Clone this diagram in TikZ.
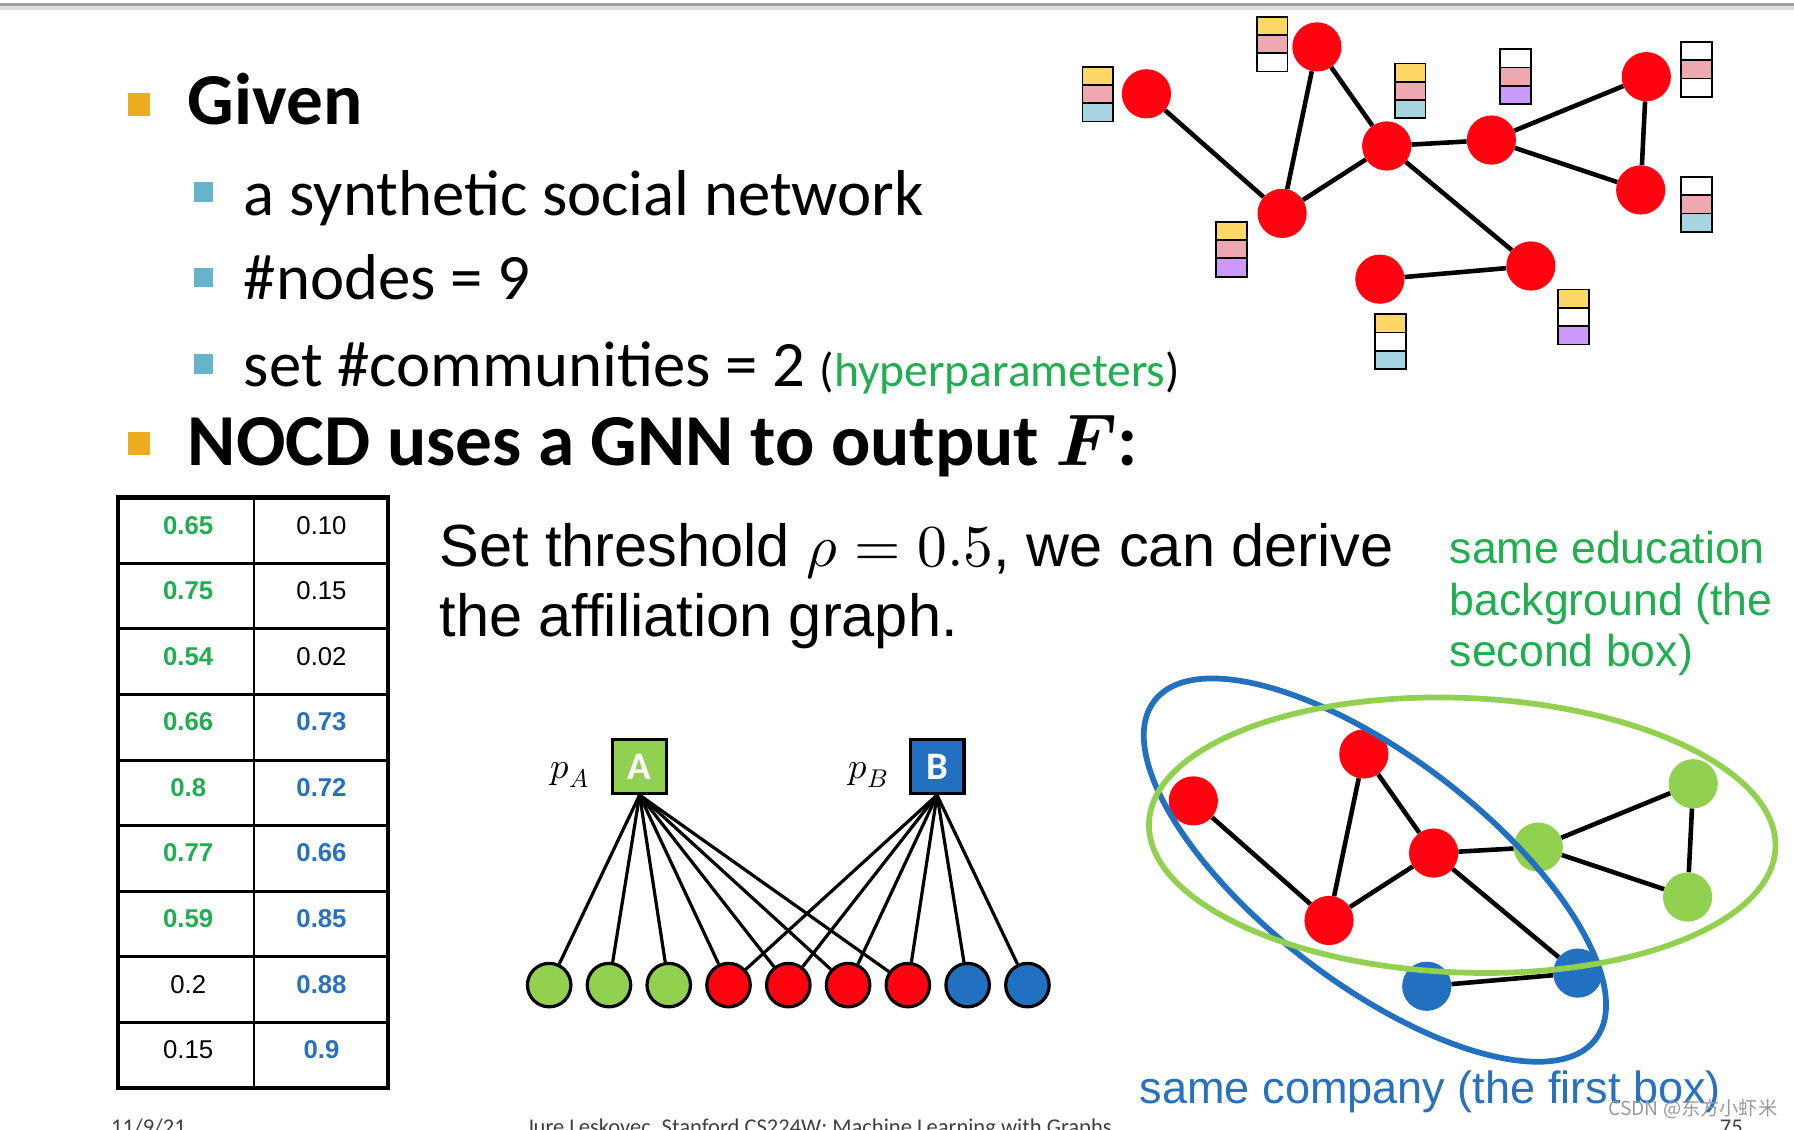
\documentclass[tikz,border=0pt]{standalone}
\usepackage{fontspec}
\usepackage{unicode-math}
\setmainfont{Carlito}
\newfontfamily\arialfont{Liberation Sans}
\newfontfamily\cjkfont{Noto Sans CJK SC}
\usetikzlibrary{positioning}

\definecolor{nodered}{RGB}{255,4,16}
\definecolor{nodegreen}{RGB}{146,208,80}
\definecolor{nodeblue}{RGB}{34,112,192}
\definecolor{txtgreen}{RGB}{32,174,80}
\definecolor{txtblue}{RGB}{40,112,192}
\definecolor{bulorange}{RGB}{239,171,32}
\definecolor{bulblue}{RGB}{102,180,204}
\definecolor{featyellow}{RGB}{254,215,102}
\definecolor{featpink}{RGB}{238,168,176}
\definecolor{featcyan}{RGB}{166,212,224}
\definecolor{featpurple}{RGB}{204,153,255}

\begin{document}
\begin{tikzpicture}[x=1pt, y=-1pt,
    txt/.style={inner sep=0pt, anchor=base west},
    bigtxt/.style={txt, font=\bfseries\fontsize{64}{70}\selectfont},
    subtxt/.style={txt, font=\fontsize{56.6}{62}\selectfont},
    armtxt/.style={txt, font=\arialfont\fontsize{52}{60}\selectfont},
    tagtxt/.style={txt, font=\arialfont\fontsize{39}{44}\selectfont},
    foot/.style={txt, text=black!75, font=\fontsize{19.7}{22}\selectfont},
    bullet/.style={fill=bulorange, minimum size=20pt, inner sep=0pt},
    subbullet/.style={fill=bulblue, minimum size=17pt, inner sep=0pt},
    person/.style={circle, fill=nodered, minimum size=43pt, inner sep=0pt},
    link/.style={line width=4pt},
    cell/.style={draw, line width=1.5pt, minimum width=27pt, minimum height=16pt,
        inner sep=0pt, outer sep=0pt},
    hiA/.style={text=txtgreen, font=\arialfont\bfseries\fontsize{22.5}{24}\selectfont},
    hiB/.style={text=txtblue, font=\arialfont\bfseries\fontsize{22.5}{24}\selectfont},
    lo/.style={font=\arialfont\fontsize{22.5}{24}\selectfont},
    comm/.style={draw, line width=2.8pt, minimum size=47pt, inner sep=0pt,
        text=white, font=\bfseries\fontsize{34}{34}\selectfont},
    member/.style={circle, draw, line width=2.8pt, minimum size=38pt, inner sep=0pt},
    ring/.style={line width=5pt}]

\useasboundingbox (0,0) rectangle (1568,987);
\clip (0,0) rectangle (1568,987);
\fill[white] (0,0) rectangle (1568,987);
\draw[gray!25, line width=4pt] (0,7) -- (1568,7);
\draw[gray!75, line width=3pt] (0,4) -- (1568,4);

% Bullets
\node[bullet] (bgiven) at (121.5,91.5) {};
\node[bigtxt] (given) at (164,109) {Given};
\node[subbullet] (b1) at (178,168) {};
\node[subtxt] (item1) at (213,188) {a synthetic social network};
\node[subbullet] (b2) at (178,242.6) {};
\node[subtxt] (item2) at (213,262) {\#nodes = 9};
\node[subbullet] (b3) at (178,318) {};
\node[subtxt] (item3) at (213,338)
    {set \#communities = 2 {\fontsize{41.5}{44}\selectfont(\textcolor{txtgreen}{hyperparameters})}};
\node[bullet] (bnocd) at (121.5,388) {};
\node[bigtxt] (nocd) at (164,406.5) {NOCD uses a GNN to output $\symbfit{F}$:};

% Social network with features
\node[person] (u1) at (1002,82) {};
\node[person] (u2) at (1151,41) {};
\node[person] (u3) at (1212,127.6) {};
\node[person] (u4) at (1120.6,186.5) {};
\node[person] (u5) at (1303.5,122.4) {};
\node[person] (u6) at (1438.9,67) {};
\node[person] (u7) at (1434,166) {};
\node[person] (u8) at (1338,232.5) {};
\node[person] (u9) at (1206,244) {};
\draw[link]
    (u1) edge (u4)
    (u4) edge (u2)
    (u2) edge (u3)
    (u4) edge (u3)
    (u3) edge (u5)
    (u5) edge (u6)
    (u6) edge (u7)
    (u5) edge (u7)
    (u3) edge (u8)
    (u8) edge (u9);

\foreach \s/\x/\y/\ca/\cb/\cc in {
    f1/959.5/66.3/featyellow/featpink/featcyan,
    f2/1111.9/22.6/featyellow/featpink/white,
    f3/1232.5/63.4/featyellow/featpink/featcyan,
    f4/1324.5/51/white/featpink/featpurple,
    f5/1482.5/44.7/white/featpink/white,
    f6/1482.5/162.5/white/featpink/featcyan,
    f7/1076.5/201.8/featyellow/featpink/featpurple,
    f8/1215.1/282.5/featyellow/white/featcyan,
    f9/1375.5/261/featyellow/white/featpurple}
{
    \node[cell, fill=\ca] (\s-1) at (\x,\y) {};
    \node[cell, fill=\cb, below=0pt of \s-1] (\s-2) {};
    \node[cell, fill=\cc, below=0pt of \s-2] (\s-3) {};
}

% Output matrix F
\draw[line width=4pt] (103,435) rectangle (339,951);
\draw[line width=2.5pt] (222,435) -- (222,951);
\foreach \k in {1,...,8}
    \draw[line width=2.5pt] (103,{435+57.33*\k}) -- (339,{435+57.33*\k});
\foreach \l/\ls/\r/\rs [count=\i from 0] in {
    0.65/hiA/0.10/lo, 0.75/hiA/0.15/lo, 0.54/hiA/0.02/lo,
    0.66/hiA/0.73/hiB, 0.8/hiA/0.72/hiB, 0.77/hiA/0.66/hiB,
    0.59/hiA/0.85/hiB, 0.2/lo/0.88/hiB, 0.15/lo/0.9/hiB}
{
    \node[\ls] (fa\i) at (164.5,{459+57.33*\i}) {\l};
    \node[\rs] (fb\i) at (281,{459+57.33*\i}) {\r};
}

\node[armtxt] (rule1) at (384,494.8) {Set threshold $\rho = 0.5$, we can derive};
\node[armtxt] (rule2) at (384,556.5) {the affiliation graph.};

% Affiliation graph
\node[comm, fill=nodegreen] (A) at (559,670) {A};
\node[comm, fill=nodeblue] (B) at (819,670) {B};
\node[font=\fontsize{32}{32}\selectfont] (pA) at (498,677) {$p_A$};
\node[font=\fontsize{32}{32}\selectfont] (pB) at (759,677) {$p_B$};
\foreach \c [count=\i] in {nodegreen,nodegreen,nodegreen,nodered,nodered,
        nodered,nodered,nodeblue,nodeblue}
    \node[member, fill=\c] (m\i) at ({480+52.25*(\i-1)},861) {};
\foreach \i in {1,...,7}
    \draw[line width=2.8pt] (A.south) -- (m\i);
\foreach \i in {4,...,9}
    \draw[line width=2.8pt] (B.south) -- (m\i);

% Detected communities
\begin{scope}[shift={(41,618)}]
\node[person] (v1) at (1002,82) {};
\node[person] (v2) at (1151,41) {};
\node[person] (v3) at (1212,127.6) {};
\node[person] (v4) at (1120.6,186.5) {};
\node[person, fill=nodegreen] (v5) at (1303.5,122.4) {};
\node[person, fill=nodegreen] (v6) at (1438.9,67) {};
\node[person, fill=nodegreen] (v7) at (1434,166) {};
\node[person, fill=nodeblue] (v8) at (1338,232.5) {};
\node[person, fill=nodeblue] (v9) at (1206,244) {};
\end{scope}
\draw[link]
    (v1) edge (v4)
    (v4) edge (v2)
    (v2) edge (v3)
    (v4) edge (v3)
    (v3) edge (v5)
    (v5) edge (v6)
    (v6) edge (v7)
    (v5) edge (v7)
    (v3) edge (v8)
    (v8) edge (v9);
\draw[ring, nodeblue, rotate around={-37.5:(1201.7,760.5)}]
    (1201.7,760.5) ellipse [x radius=243pt, y radius=99pt];
\draw[ring, nodegreen, rotate around={-2.3:(1278,730)}]
    (1278,730) ellipse [x radius=274pt, y radius=120pt];

\node[tagtxt, text=txtgreen] (edu1) at (1267,492.4) {same education};
\node[tagtxt, text=txtgreen] (edu2) at (1267,537.6) {background (the};
\node[tagtxt, text=txtgreen] (edu3) at (1267,582.8) {second box)};
\node[tagtxt, text=txtblue, font=\arialfont\fontsize{39.4}{44}\selectfont] (work)
    at (996,964.5) {same company (the first box)};

% Footer
\node[foot] (date) at (97,992) {11/9/21};
\node[foot] (credit) at (460,992) {Jure Leskovec, Stanford CS224W: Machine Learning with Graphs};
\node[foot] (page) at (1503,992) {75};
\node[txt, text=black!40, font=\cjkfont\fontsize{16.8}{17}\selectfont] (mark)
    at (1405.6,974.7) {CSDN @东方小虾米};
\end{tikzpicture}
\end{document}
